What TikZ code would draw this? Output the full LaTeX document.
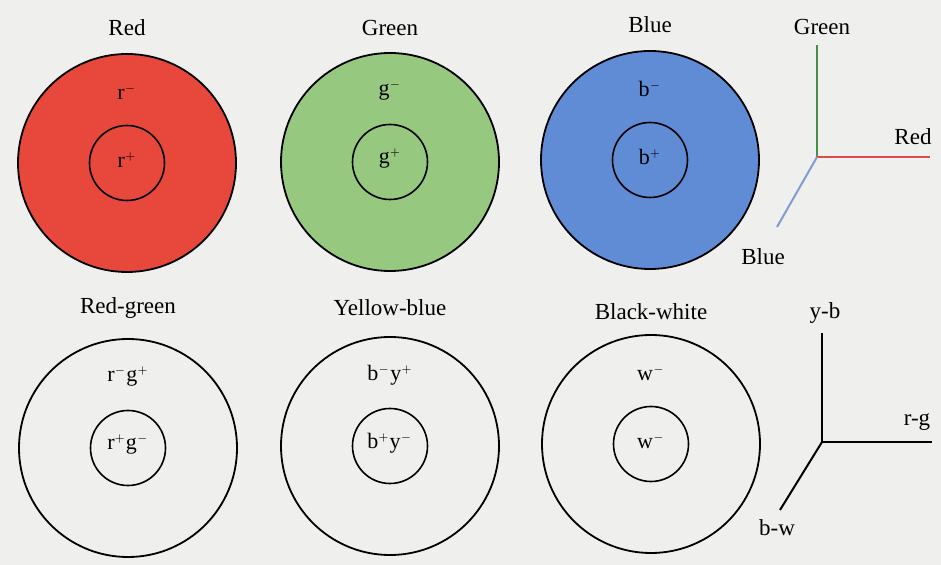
\documentclass[tikz,border=0pt]{standalone}
\usepackage{fontspec}
\setmainfont{Liberation Serif}

\definecolor{paper}{RGB}{239,239,237}
\definecolor{redfill}{RGB}{232,72,60}
\definecolor{greenfill}{RGB}{150,200,128}
\definecolor{bluefill}{RGB}{96,140,214}
\definecolor{redaxis}{RGB}{222,74,70}
\definecolor{greenaxis}{RGB}{72,142,72}
\definecolor{blueaxis}{RGB}{128,154,210}

\newcommand{\sgnlab}[2]{#1$^{\scriptscriptstyle #2}$}

\begin{document}
\begin{tikzpicture}[x=0.5pt,y=-0.5pt,
    field/.style={circle,draw=black,line width=0.9pt,minimum size=109pt,inner sep=0pt},
    centre/.style={circle,draw=black,line width=0.8pt,minimum size=37.5pt,inner sep=0pt},
    title/.style={font=\fontsize{11.5}{13}\selectfont},
    sign/.style={font=\fontsize{11}{12}\selectfont},
    axis/.style={line width=1pt}]
  \useasboundingbox[fill=paper] (0,0) rectangle (941,565);

  % Cone receptive fields (top) and opponent cells (bottom).
  \foreach \id/\x/\y/\col/\name/\out/\inn/\ty in {
      r/127/163/redfill/Red/\sgnlab{r}{-}/\sgnlab{r}{+}/28,
      g/390/162/greenfill/Green/\sgnlab{g}{-}/\sgnlab{g}{+}/28,
      b/650/160/bluefill/Blue/\sgnlab{b}{-}/\sgnlab{b}{+}/25,
      rg/128/448/paper/Red-green/\sgnlab{r}{-}\sgnlab{g}{+}/\sgnlab{r}{+}\sgnlab{g}{-}/308,
      yb/390/446/paper/Yellow-blue/\sgnlab{b}{-}\sgnlab{y}{+}/\sgnlab{b}{+}\sgnlab{y}{-}/308,
      bw/651/444/paper/Black-white/\sgnlab{w}{-}/\sgnlab{w}{-}/312} {
    \node[field,fill=\col] (\id-out) at (\x,\y) {};
    \node[centre] (\id-in) at (\x,\y) {};
    \node[title] (\id-title) at (\x,\ty) {\name};
    \node[sign] (\id-outlab) at (\x,\y-71) {\out};
    \node[sign] (\id-inlab) at (\x,\y-3) {\inn};
  }

  % Colour axes.
  \coordinate (o1) at (817,157);
  \coordinate (ga) at (817,45);
  \coordinate (ra) at (930,157);
  \coordinate (ba) at (777,227);
  \draw[axis,greenaxis] (o1) -- (ga);
  \draw[axis,redaxis] (o1) -- (ra);
  \draw[axis,blueaxis] (o1) -- (ba);
  \node[title] (ga-lab) at (822,27) {Green};
  \node[title] (ra-lab) at (913,137) {Red};
  \node[title] (ba-lab) at (763,257) {Blue};

  % Opponent axes.
  \coordinate (o2) at (822,442);
  \coordinate (yba) at (822,333);
  \coordinate (rga) at (932,442);
  \coordinate (bwa) at (780,510);
  \draw[axis] (o2) -- (yba);
  \draw[axis] (o2) -- (rga);
  \draw[axis] (o2) -- (bwa);
  \node[title] (yb-lab) at (825,313) {y-b};
  \node[title] (rg-lab) at (917,422) {r-g};
  \node[title] (bw-lab) at (777,528) {b-w};
\end{tikzpicture}
\end{document}
